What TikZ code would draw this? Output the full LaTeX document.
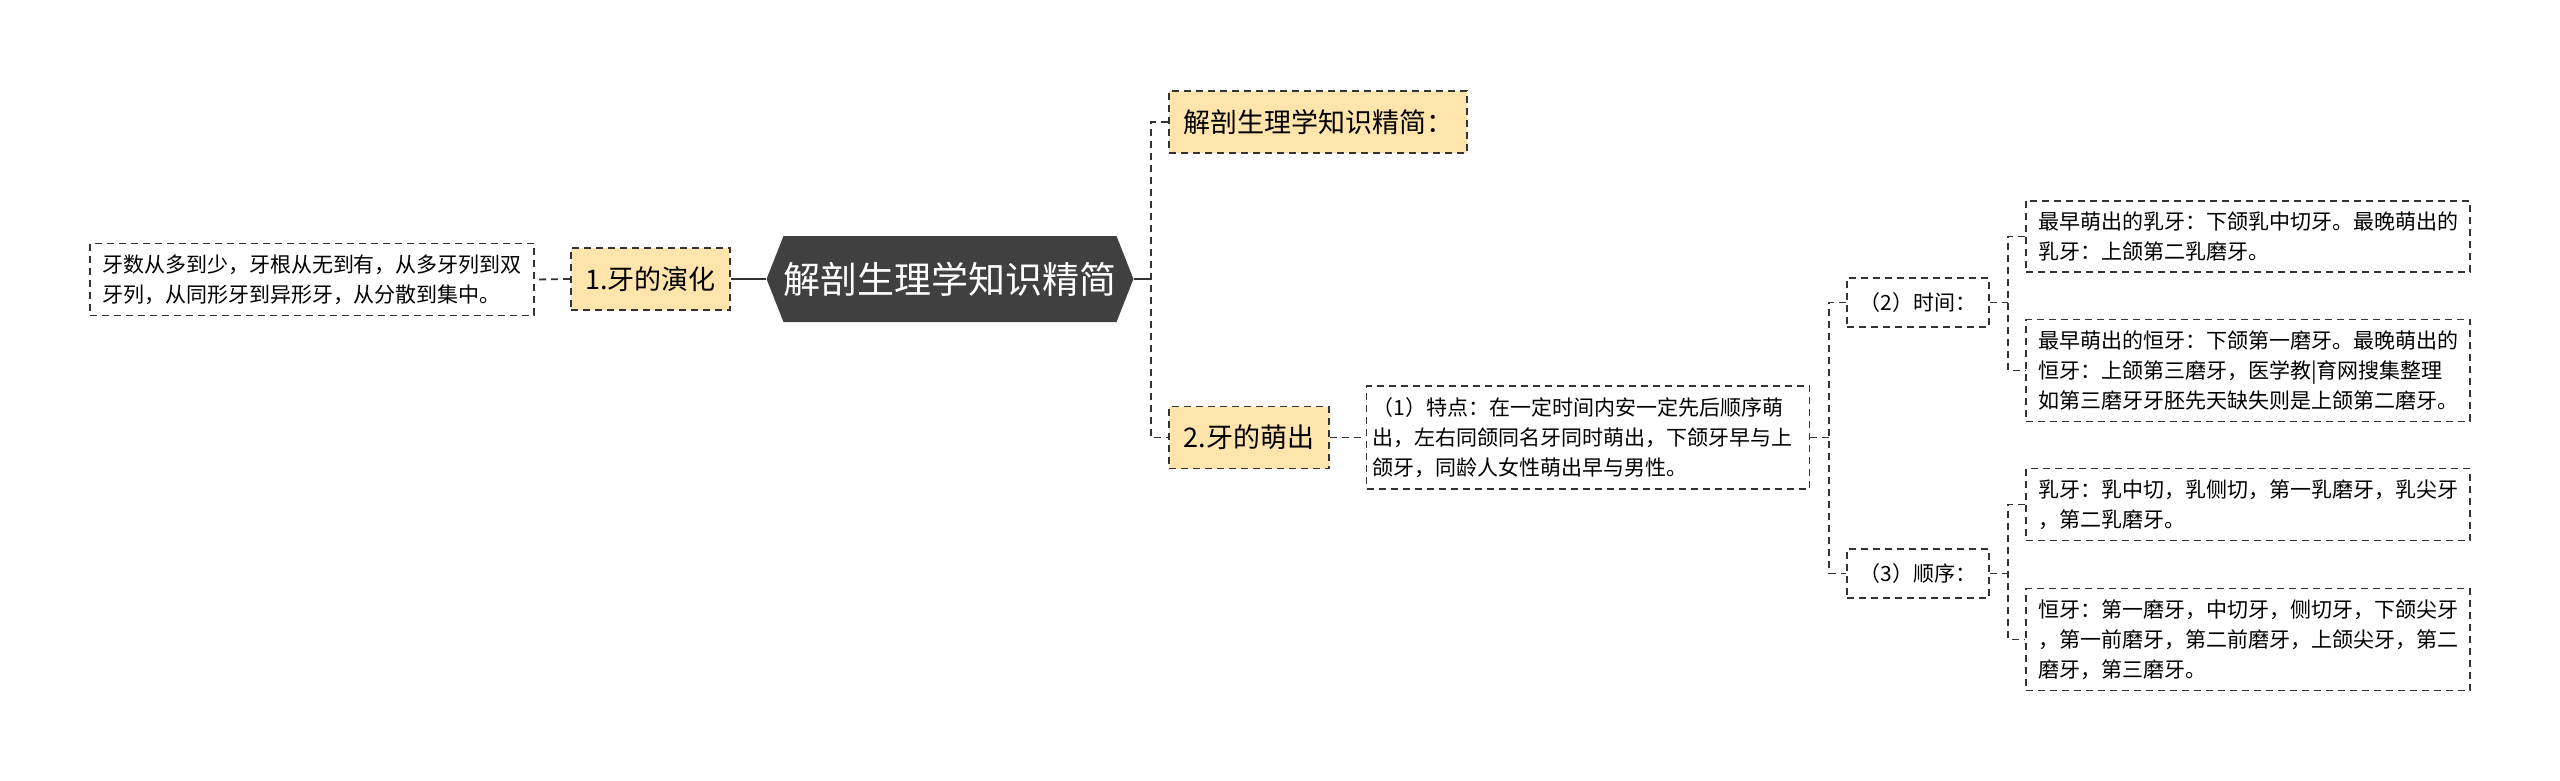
\documentclass[tikz,border=0pt]{standalone}
\usepackage{fontspec}
\setmainfont{Noto Sans CJK SC}
\usetikzlibrary{shapes.symbols}
\definecolor{hexgray}{HTML}{404040}
\definecolor{topicfill}{HTML}{FFE4AC}
\definecolor{linegray}{HTML}{333333}

\begin{document}
\begin{tikzpicture}[x=1pt,y=-1pt,
  link/.style={draw=linegray,line width=1.8pt,dash pattern=on 7pt off 5pt},
  trunk/.style={draw=linegray,line width=2.6pt},
  rootbox/.style={shape=signal,signal to=west and east,signal pointer angle=137,fill=hexgray,text=white,minimum width=364pt,minimum height=86pt,inner sep=0pt,font=\fontsize{37}{42}\selectfont},
  topic/.style={rectangle,draw=linegray,fill=topicfill,line width=1.8pt,dash pattern=on 7pt off 5pt,minimum height=62pt,inner xsep=12pt,font=\fontsize{27}{31}\selectfont},
  leaf/.style={rectangle,draw=linegray,line width=1.5pt,dash pattern=on 7pt off 5pt,align=left,text width=420pt,inner xsep=12pt,inner ysep=11pt,font=\fontsize{21}{30}\selectfont},
  tag/.style={rectangle,draw=linegray,line width=1.5pt,dash pattern=on 7pt off 5pt,minimum width=142pt,minimum height=49pt,inner sep=0pt,font=\fontsize{21}{30}\selectfont},
]
\useasboundingbox (0,0) rectangle (2560,780);

\path (950,279) node[rootbox] (root) {解剖生理学知识精简};

\path (650.5,279) node[topic,minimum width=159pt] (evo) {1.牙的演化};
\path (312,279.5) node[leaf] (evotext) {牙数从多到少，牙根从无到有，从多牙列到双\\牙列，从同形牙到异形牙，从分散到集中。};
\draw[trunk] (root.west) -- (evo.east);
\draw[link] (evo.west) -- (evotext.east);

\coordinate (rootfork) at (1151,279);
\path (1318,122) node[topic,minimum width=298pt] (title) {解剖生理学知识精简：};
\path (1249,437.5) node[topic,minimum width=160pt] (erupt) {2.牙的萌出};
\draw[trunk] (root.east) -- (rootfork);
\draw[link] (title.west) -| (rootfork) |- (erupt.west);

\path (1588,437.5) node[leaf,text width=431pt,inner xsep=6pt,minimum height=103pt] (trait) {（1）特点：在一定时间内安一定先后顺序萌\\出，左右同颌同名牙同时萌出，下颌牙早与上\\颌牙，同龄人女性萌出早与男性。};
\draw[link] (erupt) -- (trait);

\coordinate (traitfork) at (1829,437.5);
\path (1918,302.5) node[tag] (time) {（2）时间：};
\path (1918,573.5) node[tag] (order) {（3）顺序：};
\draw[link] (trait.east) -- (traitfork);
\draw[link] (time.west) -| (traitfork) |- (order.west);

\coordinate (timefork) at (2008,302.5);
\path (2248,236.5) node[leaf] (milkfirst) {最早萌出的乳牙：下颌乳中切牙。最晚萌出的\\乳牙：上颌第二乳磨牙。};
\path (2248,370.5) node[leaf] (permfirst) {最早萌出的恒牙：下颌第一磨牙。最晚萌出的\\恒牙：上颌第三磨牙，医学教|育网搜集整理\\如第三磨牙牙胚先天缺失则是上颌第二磨牙。};
\draw[link] (time.east) -- (timefork);
\draw[link] (milkfirst.west) -| (timefork) |- (permfirst.west);

\coordinate (orderfork) at (2008,573.5);
\path (2248,504.5) node[leaf] (milkorder) {乳牙：乳中切，乳侧切，第一乳磨牙，乳尖牙\\，第二乳磨牙。};
\path (2248,639.5) node[leaf] (permorder) {恒牙：第一磨牙，中切牙，侧切牙，下颌尖牙\\，第一前磨牙，第二前磨牙，上颌尖牙，第二\\磨牙，第三磨牙。};
\draw[link] (order.east) -- (orderfork);
\draw[link] (milkorder.west) -| (orderfork) |- (permorder.west);
\end{tikzpicture}
\end{document}
